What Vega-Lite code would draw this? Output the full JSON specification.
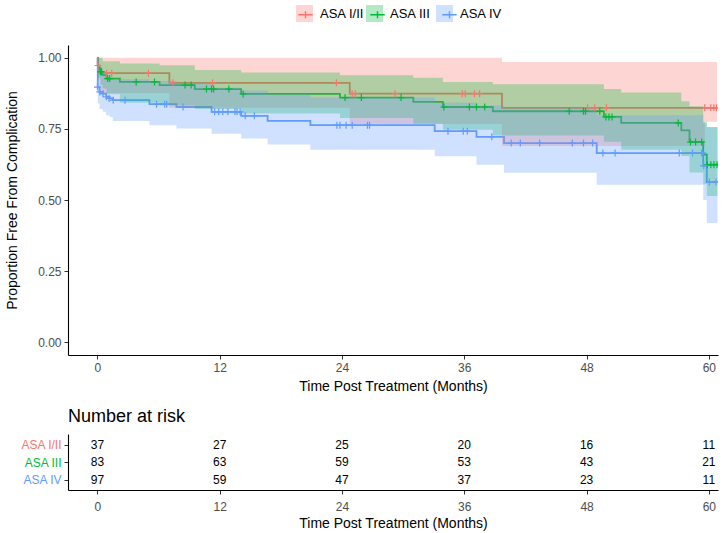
{
  "$schema": "https://vega.github.io/schema/vega-lite/v6.json",
  "padding": {"left": 5, "right": 5, "top": 5, "bottom": 5},
  "background": "white",
  "spacing": 15,
  "config": {
    "view": {"stroke": null},
    "font": "Liberation Sans",
    "axis": {
      "grid": false,
      "domainColor": "black",
      "domainWidth": 1.1,
      "tickColor": "#333333",
      "tickSize": 4,
      "tickWidth": 1,
      "labelColor": "#4D4D4D",
      "labelFontSize": 12,
      "labelFont": "Liberation Sans",
      "titleFont": "Liberation Sans",
      "titleFontSize": 14,
      "titleFontWeight": "normal",
      "titleColor": "black",
      "labelPadding": 3
    },
    "legend": {"labelFont": "Liberation Sans"}
  },
  "datasets": {
    "km": [
      {"g": "ASA I/II", "t": 0, "s": 1},
      {"g": "ASA I/II", "t": 0.02, "s": 0.973},
      {"g": "ASA I/II", "t": 0.2, "s": 0.946},
      {"g": "ASA I/II", "t": 7.06, "s": 0.912},
      {"g": "ASA I/II", "t": 24.76, "s": 0.874},
      {"g": "ASA I/II", "t": 39.7, "s": 0.824},
      {"g": "ASA I/II", "t": 60.8, "s": 0.824},
      {"g": "ASA III", "t": 0, "s": 1},
      {"g": "ASA III", "t": 0.05, "s": 0.964},
      {"g": "ASA III", "t": 0.3, "s": 0.951},
      {"g": "ASA III", "t": 0.5, "s": 0.939},
      {"g": "ASA III", "t": 0.9, "s": 0.927},
      {"g": "ASA III", "t": 2.2, "s": 0.915},
      {"g": "ASA III", "t": 6.1, "s": 0.904},
      {"g": "ASA III", "t": 9.55, "s": 0.89},
      {"g": "ASA III", "t": 14.1, "s": 0.873},
      {"g": "ASA III", "t": 23.8, "s": 0.86},
      {"g": "ASA III", "t": 31.0, "s": 0.845},
      {"g": "ASA III", "t": 33.9, "s": 0.827},
      {"g": "ASA III", "t": 38.8, "s": 0.812},
      {"g": "ASA III", "t": 49.7, "s": 0.792},
      {"g": "ASA III", "t": 51.4, "s": 0.771},
      {"g": "ASA III", "t": 57.3, "s": 0.745},
      {"g": "ASA III", "t": 58.1, "s": 0.704},
      {"g": "ASA III", "t": 59.45, "s": 0.66},
      {"g": "ASA III", "t": 59.8, "s": 0.624},
      {"g": "ASA III", "t": 60.85, "s": 0.624},
      {"g": "ASA IV", "t": 0, "s": 1},
      {"g": "ASA IV", "t": 0.03, "s": 0.897},
      {"g": "ASA IV", "t": 0.2, "s": 0.88},
      {"g": "ASA IV", "t": 0.52, "s": 0.874},
      {"g": "ASA IV", "t": 0.85, "s": 0.863},
      {"g": "ASA IV", "t": 1.2, "s": 0.857},
      {"g": "ASA IV", "t": 1.5, "s": 0.851},
      {"g": "ASA IV", "t": 5.1, "s": 0.837},
      {"g": "ASA IV", "t": 7.75, "s": 0.827},
      {"g": "ASA IV", "t": 11.2, "s": 0.81},
      {"g": "ASA IV", "t": 14.1, "s": 0.796},
      {"g": "ASA IV", "t": 16.7, "s": 0.778},
      {"g": "ASA IV", "t": 20.9, "s": 0.763},
      {"g": "ASA IV", "t": 33.1, "s": 0.742},
      {"g": "ASA IV", "t": 37.2, "s": 0.722},
      {"g": "ASA IV", "t": 39.9, "s": 0.7},
      {"g": "ASA IV", "t": 49.0, "s": 0.665},
      {"g": "ASA IV", "t": 59.45, "s": 0.62},
      {"g": "ASA IV", "t": 59.8, "s": 0.563},
      {"g": "ASA IV", "t": 60.85, "s": 0.563}
    ],
    "ci": [
      {"strata": "I/II", "t": 0, "lo": 1, "hi": 1},
      {"strata": "I/II", "t": 0.02, "lo": 0.922, "hi": 1},
      {"strata": "I/II", "t": 0.2, "lo": 0.876, "hi": 1},
      {"strata": "I/II", "t": 7.06, "lo": 0.824, "hi": 1},
      {"strata": "I/II", "t": 24.76, "lo": 0.767, "hi": 1},
      {"strata": "I/II", "t": 39.7, "lo": 0.69, "hi": 0.985},
      {"strata": "I/II", "t": 59.6, "lo": 0.775, "hi": 0.985},
      {"strata": "I/II", "t": 60.8, "lo": 0.775, "hi": 0.985},
      {"strata": "III", "t": 0, "lo": 1, "hi": 1},
      {"strata": "III", "t": 0.05, "lo": 0.93, "hi": 1},
      {"strata": "III", "t": 0.3, "lo": 0.905, "hi": 1},
      {"strata": "III", "t": 0.5, "lo": 0.892, "hi": 0.988},
      {"strata": "III", "t": 0.9, "lo": 0.872, "hi": 0.988},
      {"strata": "III", "t": 2.2, "lo": 0.842, "hi": 0.98},
      {"strata": "III", "t": 6.1, "lo": 0.832, "hi": 0.974},
      {"strata": "III", "t": 9.55, "lo": 0.82, "hi": 0.957},
      {"strata": "III", "t": 14.1, "lo": 0.804, "hi": 0.948},
      {"strata": "III", "t": 23.8, "lo": 0.788, "hi": 0.939},
      {"strata": "III", "t": 31.0, "lo": 0.768, "hi": 0.93},
      {"strata": "III", "t": 33.9, "lo": 0.747, "hi": 0.915},
      {"strata": "III", "t": 38.8, "lo": 0.727, "hi": 0.907},
      {"strata": "III", "t": 49.7, "lo": 0.705, "hi": 0.89},
      {"strata": "III", "t": 51.4, "lo": 0.677, "hi": 0.878},
      {"strata": "III", "t": 57.3, "lo": 0.655, "hi": 0.847},
      {"strata": "III", "t": 58.1, "lo": 0.597, "hi": 0.83},
      {"strata": "III", "t": 59.45, "lo": 0.555, "hi": 0.775},
      {"strata": "III", "t": 59.8, "lo": 0.514, "hi": 0.757},
      {"strata": "III", "t": 60.85, "lo": 0.514, "hi": 0.757},
      {"strata": "IV", "t": 0, "lo": 1, "hi": 1},
      {"strata": "IV", "t": 0.03, "lo": 0.839, "hi": 0.959},
      {"strata": "IV", "t": 0.2, "lo": 0.82, "hi": 0.944},
      {"strata": "IV", "t": 0.52, "lo": 0.81, "hi": 0.943},
      {"strata": "IV", "t": 0.85, "lo": 0.798, "hi": 0.933},
      {"strata": "IV", "t": 1.2, "lo": 0.792, "hi": 0.927},
      {"strata": "IV", "t": 1.5, "lo": 0.778, "hi": 0.925},
      {"strata": "IV", "t": 5.1, "lo": 0.763, "hi": 0.918},
      {"strata": "IV", "t": 7.75, "lo": 0.751, "hi": 0.911},
      {"strata": "IV", "t": 11.2, "lo": 0.733, "hi": 0.895},
      {"strata": "IV", "t": 14.1, "lo": 0.716, "hi": 0.885},
      {"strata": "IV", "t": 16.7, "lo": 0.695, "hi": 0.871},
      {"strata": "IV", "t": 20.9, "lo": 0.677, "hi": 0.86},
      {"strata": "IV", "t": 33.1, "lo": 0.654, "hi": 0.842},
      {"strata": "IV", "t": 37.2, "lo": 0.624, "hi": 0.832},
      {"strata": "IV", "t": 39.9, "lo": 0.596, "hi": 0.822},
      {"strata": "IV", "t": 49.0, "lo": 0.554, "hi": 0.798},
      {"strata": "IV", "t": 59.45, "lo": 0.5, "hi": 0.769},
      {"strata": "IV", "t": 59.8, "lo": 0.419, "hi": 0.756},
      {"strata": "IV", "t": 60.85, "lo": 0.419, "hi": 0.756}
    ],
    "cens": [
      {"g": "ASA I/II", "t": 0.05, "s": 0.973},
      {"g": "ASA I/II", "t": 0.9, "s": 0.946},
      {"g": "ASA I/II", "t": 1.4, "s": 0.946},
      {"g": "ASA I/II", "t": 5.0, "s": 0.946},
      {"g": "ASA I/II", "t": 7.4, "s": 0.912},
      {"g": "ASA I/II", "t": 11.3, "s": 0.912},
      {"g": "ASA I/II", "t": 23.45, "s": 0.912},
      {"g": "ASA I/II", "t": 25.0, "s": 0.874},
      {"g": "ASA I/II", "t": 25.3, "s": 0.874},
      {"g": "ASA I/II", "t": 29.2, "s": 0.874},
      {"g": "ASA I/II", "t": 35.8, "s": 0.874},
      {"g": "ASA I/II", "t": 36.1, "s": 0.874},
      {"g": "ASA I/II", "t": 37.0, "s": 0.874},
      {"g": "ASA I/II", "t": 37.5, "s": 0.874},
      {"g": "ASA I/II", "t": 48.1, "s": 0.824},
      {"g": "ASA I/II", "t": 48.8, "s": 0.824},
      {"g": "ASA I/II", "t": 49.95, "s": 0.824},
      {"g": "ASA I/II", "t": 59.6, "s": 0.824},
      {"g": "ASA I/II", "t": 60.2, "s": 0.824},
      {"g": "ASA I/II", "t": 60.5, "s": 0.824},
      {"g": "ASA I/II", "t": 60.75, "s": 0.824},
      {"g": "ASA III", "t": 0.3, "s": 0.951},
      {"g": "ASA III", "t": 0.4, "s": 0.951},
      {"g": "ASA III", "t": 1.0, "s": 0.927},
      {"g": "ASA III", "t": 1.2, "s": 0.927},
      {"g": "ASA III", "t": 3.8, "s": 0.915},
      {"g": "ASA III", "t": 5.6, "s": 0.915},
      {"g": "ASA III", "t": 8.6, "s": 0.904},
      {"g": "ASA III", "t": 9.2, "s": 0.904},
      {"g": "ASA III", "t": 10.7, "s": 0.89},
      {"g": "ASA III", "t": 11.2, "s": 0.89},
      {"g": "ASA III", "t": 11.4, "s": 0.89},
      {"g": "ASA III", "t": 12.9, "s": 0.89},
      {"g": "ASA III", "t": 14.3, "s": 0.873},
      {"g": "ASA III", "t": 24.3, "s": 0.86},
      {"g": "ASA III", "t": 25.9, "s": 0.86},
      {"g": "ASA III", "t": 29.8, "s": 0.86},
      {"g": "ASA III", "t": 34.0, "s": 0.827},
      {"g": "ASA III", "t": 36.5, "s": 0.827},
      {"g": "ASA III", "t": 37.2, "s": 0.827},
      {"g": "ASA III", "t": 38.0, "s": 0.827},
      {"g": "ASA III", "t": 46.3, "s": 0.812},
      {"g": "ASA III", "t": 47.7, "s": 0.812},
      {"g": "ASA III", "t": 47.9, "s": 0.812},
      {"g": "ASA III", "t": 49.3, "s": 0.812},
      {"g": "ASA III", "t": 49.9, "s": 0.792},
      {"g": "ASA III", "t": 50.2, "s": 0.792},
      {"g": "ASA III", "t": 50.5, "s": 0.792},
      {"g": "ASA III", "t": 57.0, "s": 0.771},
      {"g": "ASA III", "t": 58.2, "s": 0.704},
      {"g": "ASA III", "t": 58.7, "s": 0.704},
      {"g": "ASA III", "t": 59.3, "s": 0.704},
      {"g": "ASA III", "t": 59.85, "s": 0.624},
      {"g": "ASA III", "t": 60.2, "s": 0.624},
      {"g": "ASA III", "t": 60.5, "s": 0.624},
      {"g": "ASA III", "t": 60.8, "s": 0.624},
      {"g": "ASA IV", "t": 0.0, "s": 0.897},
      {"g": "ASA IV", "t": 0.23, "s": 0.88},
      {"g": "ASA IV", "t": 0.55, "s": 0.874},
      {"g": "ASA IV", "t": 0.88, "s": 0.863},
      {"g": "ASA IV", "t": 1.14, "s": 0.857},
      {"g": "ASA IV", "t": 1.55, "s": 0.851},
      {"g": "ASA IV", "t": 2.7, "s": 0.851},
      {"g": "ASA IV", "t": 5.8, "s": 0.837},
      {"g": "ASA IV", "t": 6.6, "s": 0.837},
      {"g": "ASA IV", "t": 6.8, "s": 0.837},
      {"g": "ASA IV", "t": 8.4, "s": 0.827},
      {"g": "ASA IV", "t": 11.5, "s": 0.81},
      {"g": "ASA IV", "t": 11.9, "s": 0.81},
      {"g": "ASA IV", "t": 12.3, "s": 0.81},
      {"g": "ASA IV", "t": 12.8, "s": 0.81},
      {"g": "ASA IV", "t": 13.5, "s": 0.81},
      {"g": "ASA IV", "t": 13.7, "s": 0.81},
      {"g": "ASA IV", "t": 14.0, "s": 0.81},
      {"g": "ASA IV", "t": 14.5, "s": 0.796},
      {"g": "ASA IV", "t": 15.4, "s": 0.796},
      {"g": "ASA IV", "t": 23.5, "s": 0.763},
      {"g": "ASA IV", "t": 23.8, "s": 0.763},
      {"g": "ASA IV", "t": 24.4, "s": 0.763},
      {"g": "ASA IV", "t": 25.0, "s": 0.763},
      {"g": "ASA IV", "t": 26.5, "s": 0.763},
      {"g": "ASA IV", "t": 26.7, "s": 0.763},
      {"g": "ASA IV", "t": 34.4, "s": 0.742},
      {"g": "ASA IV", "t": 35.9, "s": 0.742},
      {"g": "ASA IV", "t": 36.3, "s": 0.742},
      {"g": "ASA IV", "t": 38.7, "s": 0.722},
      {"g": "ASA IV", "t": 40.6, "s": 0.7},
      {"g": "ASA IV", "t": 41.5, "s": 0.7},
      {"g": "ASA IV", "t": 43.4, "s": 0.7},
      {"g": "ASA IV", "t": 46.6, "s": 0.7},
      {"g": "ASA IV", "t": 47.7, "s": 0.7},
      {"g": "ASA IV", "t": 48.6, "s": 0.7},
      {"g": "ASA IV", "t": 49.6, "s": 0.665},
      {"g": "ASA IV", "t": 50.8, "s": 0.665},
      {"g": "ASA IV", "t": 57.1, "s": 0.665},
      {"g": "ASA IV", "t": 58.4, "s": 0.665},
      {"g": "ASA IV", "t": 59.3, "s": 0.665},
      {"g": "ASA IV", "t": 59.4, "s": 0.665},
      {"g": "ASA IV", "t": 59.5, "s": 0.62},
      {"g": "ASA IV", "t": 60.05, "s": 0.563},
      {"g": "ASA IV", "t": 60.7, "s": 0.563}
    ],
    "risk": [
      {"g": "ASA I/II", "t": 0, "n": 37},
      {"g": "ASA I/II", "t": 12, "n": 27},
      {"g": "ASA I/II", "t": 24, "n": 25},
      {"g": "ASA I/II", "t": 36, "n": 20},
      {"g": "ASA I/II", "t": 48, "n": 16},
      {"g": "ASA I/II", "t": 60, "n": 11},
      {"g": "ASA III", "t": 0, "n": 83},
      {"g": "ASA III", "t": 12, "n": 63},
      {"g": "ASA III", "t": 24, "n": 59},
      {"g": "ASA III", "t": 36, "n": 53},
      {"g": "ASA III", "t": 48, "n": 43},
      {"g": "ASA III", "t": 60, "n": 21},
      {"g": "ASA IV", "t": 0, "n": 97},
      {"g": "ASA IV", "t": 12, "n": 59},
      {"g": "ASA IV", "t": 24, "n": 47},
      {"g": "ASA IV", "t": 36, "n": 37},
      {"g": "ASA IV", "t": 48, "n": 23},
      {"g": "ASA IV", "t": 60, "n": 11}
    ]
  },
  "vconcat": [
    {
      "width": 650,
      "height": 310,
      "layer": [
        {
          "data": {"name": "km"},
          "mark": {"type": "line", "interpolate": "step-after", "strokeWidth": 1.8, "clip": true},
          "encoding": {
            "x": {"field": "t", "type": "quantitative",
                  "scale": {"domain": [-2.89, 60.9], "nice": false, "zero": false},
                  "axis": {"values": [0, 12, 24, 36, 48, 60], "title": "Time Post Treatment (Months)", "titlePadding": 6}},
            "y": {"field": "s", "type": "quantitative",
                  "scale": {"domain": [-0.045, 1.045], "nice": false, "zero": false},
                  "axis": {"values": [0, 0.25, 0.5, 0.75, 1], "format": ".2f", "title": "Proportion Free From Complication", "titlePadding": 18}},
            "stroke": {"field": "g", "type": "nominal",
                       "scale": {"domain": ["ASA I/II", "ASA III", "ASA IV"], "range": ["#F8766D", "#00BA38", "#619CFF"]},
                       "legend": {"orient": "none", "legendX": 228, "legendY": -40, "direction": "horizontal", "title": null,
                                  "columns": 3, "gridAlign": "all",
                                  "symbolType": "M-0.85,0H0.85M0,-0.4V0.4", "symbolSize": 289, "symbolStrokeWidth": 1.4,
                                  "symbolFillColor": "transparent", "labelFontSize": 13, "labelOffset": 51, "columnPadding": 1,
                                  "labelExpr": "''", "zindex": 2}}
          }
        },
        {
          "data": {"name": "ci"},
          "mark": {"type": "area", "interpolate": "step-after", "fillOpacity": 0.3, "clip": true},
          "encoding": {
            "x": {"field": "t", "type": "quantitative"},
            "y": {"field": "lo", "type": "quantitative"},
            "y2": {"field": "hi"},
            "fill": {"field": "strata", "type": "nominal",
                     "scale": {"domain": ["I/II", "III", "IV"], "range": ["#F8766D", "#00BA38", "#619CFF"]},
                     "legend": {"orient": "none", "legendX": 228, "legendY": -40, "direction": "horizontal", "title": null,
                                "columns": 3, "gridAlign": "all",
                                "labelExpr": "'ASA ' + datum.label",
                                "symbolType": "square", "symbolSize": 289, "symbolStrokeWidth": 0, "symbolOpacity": 0.3,
                                "labelFontSize": 13, "labelOffset": 7, "columnPadding": 1, "labelColor": "black", "zindex": 1}}
          }
        },
        {
          "data": {"name": "cens"},
          "mark": {"type": "point", "shape": "M-1,0H1M0,-1V1", "size": 49, "strokeWidth": 1.2, "filled": false, "opacity": 1, "clip": true},
          "encoding": {
            "x": {"field": "t", "type": "quantitative"},
            "y": {"field": "s", "type": "quantitative"},
            "stroke": {"field": "g", "type": "nominal", "legend": null}
          }
        }
      ]
    },
    {
      "width": 650,
      "height": 56,
      "title": {"text": "Number at risk", "anchor": "start", "frame": "group", "fontSize": 18, "fontWeight": "normal", "color": "black", "offset": 8, "font": "Liberation Sans"},
      "data": {"name": "risk"},
      "mark": {"type": "text", "fontSize": 12, "color": "black", "font": "Liberation Sans"},
      "encoding": {
        "x": {"field": "t", "type": "quantitative",
              "scale": {"domain": [-2.89, 60.9], "nice": false, "zero": false},
              "axis": {"values": [0, 12, 24, 36, 48, 60], "title": "Time Post Treatment (Months)", "titlePadding": 4, "labelPadding": 7}},
        "y": {"field": "g", "type": "nominal",
              "scale": {"type": "point", "domain": ["ASA I/II", "ASA III", "ASA IV"], "padding": 0.6},
              "axis": {"title": null, "labelFontSize": 12,
                       "labelColor": {"condition": [{"test": "datum.value === 'ASA I/II'", "value": "#F8766D"}, {"test": "datum.value === 'ASA III'", "value": "#00BA38"}], "value": "#619CFF"}}},
        "text": {"field": "n", "type": "quantitative"}
      }
    }
  ]
}
